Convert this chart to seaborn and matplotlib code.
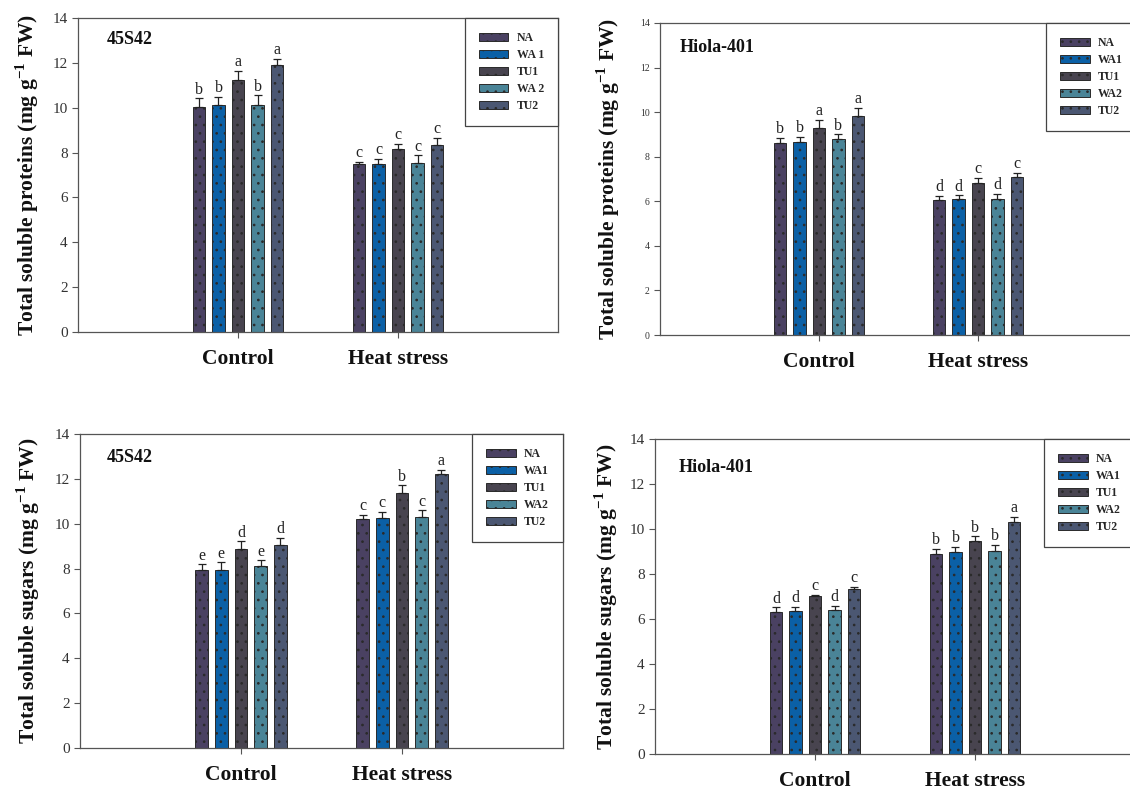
import numpy as np
import pandas as pd
import matplotlib
matplotlib.use("Agg")
import matplotlib.pyplot as plt
from matplotlib.patches import Patch
import seaborn as sns

# ---------------- data ----------------
conditions = ["Control", "Heat stress"]
treatments = ["NA", "WA1", "TU1", "WA2", "TU2"]
colors = ["#4a4162", "#0b60a6", "#48444f", "#4a8497", "#4b5772"]

# Total soluble proteins, 45S42
prot_45_ctrl = [10.02, 10.10, 11.24, 10.13, 11.92]
prot_45_ctrl_err = [0.40, 0.37, 0.40, 0.42, 0.27]
prot_45_heat = [7.49, 7.49, 8.18, 7.52, 8.34]
prot_45_heat_err = [0.10, 0.22, 0.20, 0.36, 0.33]
prot_45_letters_ctrl = ["b", "b", "a", "b", "a"]
prot_45_letters_heat = ["c", "c", "c", "c", "c"]

# Total soluble proteins, Hiola-401
prot_hi_ctrl = [8.61, 8.68, 9.31, 8.80, 9.84]
prot_hi_ctrl_err = [0.25, 0.22, 0.35, 0.20, 0.34]
prot_hi_heat = [6.06, 6.09, 6.84, 6.12, 7.10]
prot_hi_heat_err = [0.18, 0.17, 0.22, 0.20, 0.18]
prot_hi_letters_ctrl = ["b", "b", "a", "b", "a"]
prot_hi_letters_heat = ["d", "d", "c", "d", "c"]

# Total soluble sugars, 45S42
sug_45_ctrl = [7.92, 7.95, 8.87, 8.10, 9.04]
sug_45_ctrl_err = [0.27, 0.33, 0.34, 0.27, 0.32]
sug_45_heat = [10.22, 10.25, 11.38, 10.28, 12.20]
sug_45_heat_err = [0.18, 0.27, 0.33, 0.31, 0.19]
sug_45_letters_ctrl = ["e", "e", "d", "e", "d"]
sug_45_letters_heat = ["c", "c", "b", "c", "a"]

# Total soluble sugars, Hiola-401
sug_hi_ctrl = [6.33, 6.36, 7.03, 6.41, 7.33]
sug_hi_ctrl_err = [0.19, 0.19, 0.05, 0.19, 0.09]
sug_hi_heat = [8.91, 8.97, 9.45, 9.02, 10.31]
sug_hi_heat_err = [0.22, 0.24, 0.22, 0.27, 0.22]
sug_hi_letters_ctrl = ["d", "d", "c", "d", "c"]
sug_hi_letters_heat = ["b", "b", "b", "b", "a"]

legend_labels_p1 = ["NA", "WA 1", "TU1", "WA 2", "TU2"]
legend_labels = ["NA", "WA1", "TU1", "WA2", "TU2"]
yticks = [0, 2, 4, 6, 8, 10, 12, 14]

# ---------------- style ----------------
sns.set_theme(style="white")
plt.rcParams["font.family"] = ["Liberation Serif", "DejaVu Serif"]
plt.rcParams["mathtext.fontset"] = "custom"
plt.rcParams["mathtext.rm"] = "Liberation Serif"
plt.rcParams["mathtext.bf"] = "Liberation Serif:bold"
plt.rcParams["hatch.linewidth"] = 0.7

W, H = 1130, 789
fig = plt.figure(figsize=(W / 100, H / 100), dpi=100)
fig.patch.set_facecolor("white")

SPINE = "#555555"


def px_axes(left, top, right, bottom):
    return fig.add_axes([left / W, 1 - bottom / H, (right - left) / W, (bottom - top) / H])


panels = [
    dict(box=(78, 18, 558, 332), ylabel="Total soluble proteins", title="45S42",
         ctrl=prot_45_ctrl, ctrl_err=prot_45_ctrl_err, heat=prot_45_heat, heat_err=prot_45_heat_err,
         lc=prot_45_letters_ctrl, lh=prot_45_letters_heat, tick_fs=11, labelpad=8,
         title_xy=(0.06, 0.933), legend=legend_labels_p1),
    dict(box=(660, 23, 1137, 335), ylabel="Total soluble proteins", title="Hiola-401",
         ctrl=prot_hi_ctrl, ctrl_err=prot_hi_ctrl_err, heat=prot_hi_heat, heat_err=prot_hi_heat_err,
         lc=prot_hi_letters_ctrl, lh=prot_hi_letters_heat, tick_fs=7, labelpad=13,
         title_xy=(0.042, 0.92), legend=legend_labels),
    dict(box=(80, 434, 563, 748), ylabel="Total soluble sugars", title="45S42",
         ctrl=sug_45_ctrl, ctrl_err=sug_45_ctrl_err, heat=sug_45_heat, heat_err=sug_45_heat_err,
         lc=sug_45_letters_ctrl, lh=sug_45_letters_heat, tick_fs=11, labelpad=9,
         title_xy=(0.056, 0.924), legend=legend_labels),
    dict(box=(655, 439, 1135, 754), ylabel="Total soluble sugars", title="Hiola-401",
         ctrl=sug_hi_ctrl, ctrl_err=sug_hi_ctrl_err, heat=sug_hi_heat, heat_err=sug_hi_heat_err,
         lc=sug_hi_letters_ctrl, lh=sug_hi_letters_heat, tick_fs=11, labelpad=7,
         title_xy=(0.05, 0.911), legend=legend_labels),
]

for p in panels:
    ax = px_axes(*p["box"])
    df = pd.DataFrame({
        "cond": [conditions[0]] * 5 + [conditions[1]] * 5,
        "trt": treatments * 2,
        "val": list(p["ctrl"]) + list(p["heat"]),
    })
    errs = {conditions[0]: p["ctrl_err"], conditions[1]: p["heat_err"]}
    letters = {conditions[0]: p["lc"], conditions[1]: p["lh"]}

    sns.barplot(data=df, x="cond", y="val", hue="trt", order=conditions, hue_order=treatments,
                palette=colors, errorbar=None, width=0.61, gap=0.36, legend=False,
                edgecolor="#2a2a2a", linewidth=0.7, hatch="..", saturation=1, ax=ax)

    bar_containers = list(ax.containers)
    for i, cont in enumerate(bar_containers):
        for j, bar in enumerate(cont.patches):
            cx = bar.get_x() + bar.get_width() / 2
            h = bar.get_height()
            e = errs[conditions[j]][i]
            ax.errorbar([cx], [h], yerr=[[0], [e]], fmt="none", ecolor="#222222",
                        elinewidth=0.9, capsize=3.2, capthick=0.9, zorder=3)
            ax.annotate(letters[conditions[j]][i], (cx, h + e), xytext=(0, 0.5),
                        textcoords="offset points", ha="center", va="bottom",
                        fontsize=11.5, color="#222222")

    ax.set_xlim(-1, 2)
    ax.set_ylim(0, 14)
    ax.set_yticks(yticks)
    ax.set_xlabel("")
    ax.set_ylabel(p["ylabel"] + r" (mg g$^{\mathbf{-1}}$ FW)", fontsize=15.5,
                  fontweight="bold", labelpad=p["labelpad"], color="#111111")
    ax.tick_params(axis="y", direction="out", length=4.5, width=0.8, color=SPINE,
                   labelsize=p["tick_fs"], labelcolor="#333333", pad=3, left=True)
    ax.tick_params(axis="x", direction="out", length=4, width=0.8, color=SPINE,
                   labelsize=15.5, pad=8, bottom=True)
    for lab in ax.get_xticklabels():
        lab.set_fontweight("bold")
        lab.set_color("#111111")
    for s in ax.spines.values():
        s.set_color(SPINE)
        s.set_linewidth(0.9)
        s.set_visible(True)

    ax.text(p["title_xy"][0], p["title_xy"][1], p["title"], transform=ax.transAxes,
            fontsize=13, fontweight="bold", ha="left", va="center", color="#111111")

    handles = [Patch(facecolor=c, edgecolor="#2a2a2a", hatch="..", linewidth=0.7) for c in colors]
    leg = ax.legend(handles, p["legend"], loc="upper right", borderaxespad=0,
                    frameon=True, fancybox=False, framealpha=1, edgecolor="#444444",
                    prop={"family": "Liberation Serif", "weight": "bold", "size": 8.5},
                    handlelength=2.5, handleheight=0.6, handletextpad=0.7,
                    labelspacing=0.42, borderpad=1.2)
    leg.get_frame().set_linewidth(0.9)

fig.savefig("out.png", dpi=100, facecolor="white")
